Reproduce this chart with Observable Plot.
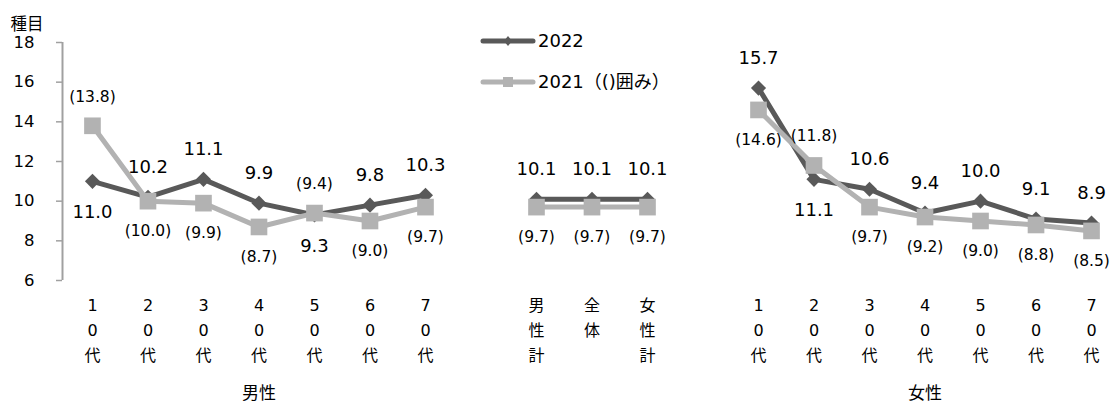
<!DOCTYPE html>
<html><head><meta charset="utf-8">
<script src="https://cdn.jsdelivr.net/npm/d3@7"></script>
<script src="https://cdn.jsdelivr.net/npm/@observablehq/plot@0.6"></script>
<style>
body{margin:0;background:#fff;}
#wrap{position:relative;width:1113px;height:407px;font-family:'DejaVu Sans','Noto Sans CJK JP',sans-serif;}
#legend{position:absolute;left:0;top:0;}
</style></head><body><div id="wrap"></div>
<script>
// ---- data ----
const ageLabels = ["10代","20代","30代","40代","50代","60代","70代"];
const totalLabels = ["男性計","全体","女性計"];
const groupLabels = ["男性","女性"];
const seriesNames = ["2022","2021（()囲み）"];
const yTicks = [6,8,10,12,14,16,18];
const yTitle = "種目";

const male2022 = [11.0,10.2,11.1,9.9,9.3,9.8,10.3];
const male2021 = [13.8,10.0,9.9,8.7,9.4,9.0,9.7];
const total2022 = [10.1,10.1,10.1];
const total2021 = [9.7,9.7,9.7];
const female2022 = [15.7,11.1,10.6,9.4,10.0,9.1,8.9];
const female2021 = [14.6,11.8,9.7,9.2,9.0,8.8,8.5];

// ---- build table ----
const colors = {"2022":"#595959","2021":"#b2b2b2"};
const groups = [
  {key:"male", labels:ageLabels, s22:male2022, s21:male2021, start:0},
  {key:"total", labels:totalLabels, s22:total2022, s21:total2021, start:8},
  {key:"female", labels:ageLabels, s22:female2022, s21:female2021, start:12}
];
const rows = [];
const tickMap = new Map();
for (const g of groups) {
  g.labels.forEach((lab, i) => {
    const slot = g.start + i;
    tickMap.set(slot, lab.split("").join("\n"));
    const v22 = g.s22[i], v21 = g.s21[i];
    rows.push({slot, group:g.key, series:"2022", value:v22, above: v22 >= v21});
    rows.push({slot, group:g.key, series:"2021", value:v21, above: v21 > v22});
  });
}
const r22 = rows.filter(d => d.series === "2022");
const r21 = rows.filter(d => d.series === "2021");
const groupCenters = [{slot:3, label:groupLabels[0]}, {slot:15, label:groupLabels[1]}];
const xDomain = [-0.54, 18.396];

const plot = Plot.plot({
  width: 1113, height: 407,
  marginLeft: 62, marginRight: 0, marginTop: 42, marginBottom: 127,
  style: {fontFamily: "'DejaVu Sans','Noto Sans CJK JP',sans-serif", background: "#fff", color: "#000"},
  x: {domain: xDomain},
  y: {domain: [6, 18]},
  marks: [
    Plot.ruleX([xDomain[0]], {y1: 6, y2: 18, stroke: "#a0a0a0", strokeWidth: 2}),
    Plot.axisY({ticks: yTicks, tickSize: 6, tickPadding: 22, fontSize: 16.5, stroke: "#a0a0a0", strokeWidth: 1.5, fill: "#000", label: null}),
    Plot.axisX({ticks: [...tickMap.keys()], tickFormat: d => tickMap.get(d), tickSize: 0, tickPadding: 13, fontSize: 16, lineHeight: 1.56, fill: "#000", label: null}),
    Plot.line(r22, {x: "slot", y: "value", z: "group", stroke: colors["2022"], strokeWidth: 5}),
    Plot.dot(r22, {x: "slot", y: "value", symbol: "diamond2", r: 6.8, fill: colors["2022"], stroke: null}),
    Plot.line(r21, {x: "slot", y: "value", z: "group", stroke: colors["2021"], strokeWidth: 5}),
    Plot.dot(r21, {x: "slot", y: "value", symbol: "square", r: 9.4, fill: colors["2021"], stroke: null}),
    Plot.text(r22.filter(d => d.above), {x: "slot", y: "value", text: d => d.value.toFixed(1), dy: -30, fontSize: 18, fill: "#000"}),
    Plot.text(r22.filter(d => !d.above), {x: "slot", y: "value", text: d => d.value.toFixed(1), dy: 31, fontSize: 18, fill: "#000"}),
    Plot.text(r21.filter(d => d.above), {x: "slot", y: "value", text: d => `(${d.value.toFixed(1)})`, dy: -29, fontSize: 15.5, fill: "#000"}),
    Plot.text(r21.filter(d => !d.above), {x: "slot", y: "value", text: d => `(${d.value.toFixed(1)})`, dy: 30, fontSize: 15.5, fill: "#000"}),
    Plot.text(groupCenters, {x: "slot", text: "label", frameAnchor: "bottom", dy: 118, fontSize: 17, fill: "#000"}),
    Plot.text([yTitle], {frameAnchor: "top-left", text: d => d, dx: -52, dy: -24, textAnchor: "start", fontSize: 16.5, fill: "#000"})
  ]
});
const wrap = document.getElementById("wrap");
wrap.appendChild(plot);

// ---- legend overlay ----
const ns = "http://www.w3.org/2000/svg";
const lg = document.createElementNS(ns, "svg");
lg.setAttribute("id", "legend");
lg.setAttribute("width", 1113); lg.setAttribute("height", 407);
lg.style.pointerEvents = "none";
const legendItems = [{name: seriesNames[0], color: colors["2022"], sym: "diamond"}, {name: seriesNames[1], color: colors["2021"], sym: "square"}];
legendItems.forEach((it, i) => {
  const cy = 41 + 41 * i, x0 = 483, x1 = 533, cx = (x0 + x1) / 2;
  const ln = document.createElementNS(ns, "line");
  ln.setAttribute("x1", x0); ln.setAttribute("x2", x1); ln.setAttribute("y1", cy); ln.setAttribute("y2", cy);
  ln.setAttribute("stroke", it.color); ln.setAttribute("stroke-width", 5); ln.setAttribute("stroke-linecap", "round");
  lg.appendChild(ln);
  const p = document.createElementNS(ns, "path");
  p.setAttribute("d", it.sym === "diamond" ? `M${cx},${cy-5}L${cx+4},${cy}L${cx},${cy+5}L${cx-4},${cy}Z` : `M${cx-5},${cy-5}h10v10h-10Z`);
  p.setAttribute("fill", it.color);
  lg.appendChild(p);
  const t = document.createElementNS(ns, "text");
  t.setAttribute("x", 538); t.setAttribute("y", cy); t.setAttribute("dy", "0.36em");
  t.setAttribute("font-size", 18); t.setAttribute("fill", "#000");
  t.textContent = it.name;
  lg.appendChild(t);
});
wrap.appendChild(lg);
</script></body></html>
